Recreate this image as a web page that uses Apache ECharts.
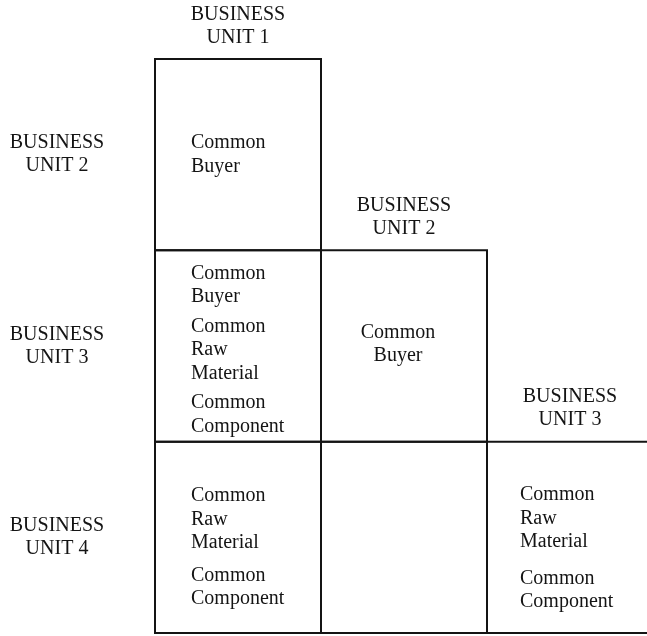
<!DOCTYPE html>
<html><head><meta charset="utf-8">
<script src="https://cdn.jsdelivr.net/npm/echarts@6/dist/echarts.min.js"></script>
<style>html,body{margin:0;padding:0;background:#fff}#c{width:647px;height:636px}</style>
</head><body><div id="c"></div>
<script>
// ---- data ----
const colHeaders = ['BUSINESS\nUNIT 1', 'BUSINESS\nUNIT 2', 'BUSINESS\nUNIT 3'];
const rowHeaders = ['BUSINESS\nUNIT 2', 'BUSINESS\nUNIT 3', 'BUSINESS\nUNIT 4'];
const cellCols = [0, 0, 1, 0, 1, 2];
const cellRows = [0, 1, 1, 2, 2, 2];
const cellTexts = [
  [['Common', 'Buyer']],
  [['Common', 'Buyer'], ['Common', 'Raw', 'Material'], ['Common', 'Component']],
  [['Common', 'Buyer']],
  [['Common', 'Raw', 'Material'], ['Common', 'Component']],
  [],
  [['Common', 'Raw', 'Material'], ['Common', 'Component']]
];

// ---- styles ----
const FONT = '"Liberation Serif", "DejaVu Serif", serif';
const FS = 20;
const INK = '#141414';
const textLeftPad = [36, 36, 33];
const cellShift = { '0,0': 0, '0,1': 4, '1,1': -2, '0,2': 10, '1,2': 0, '2,2': 11 };
const groupGap = { '0,1': 'g', '0,2': 'h', '2,2': 'k' };
const centeredCells = { '1,1': true };

const chart = echarts.init(document.getElementById('c'), null, { renderer: 'canvas' });

function richText(groups, gapStyle) {
  return groups.map(g => g.map(l => '{a|' + l + '}').join('\n')).join('\n{' + gapStyle + '| }\n');
}
const rich = {
  a: { fontSize: FS, lineHeight: 23.5, fontFamily: FONT, fill: INK, color: INK },
  g: { fontSize: 6, lineHeight: 6, fontFamily: FONT },
  h: { fontSize: 9, lineHeight: 9, fontFamily: FONT },
  k: { fontSize: 13, lineHeight: 13, fontFamily: FONT }
};

function renderCell(params, api) {
  const i = params.dataIndex;
  const c = cellCols[i], r = cellRows[i];
  const p0 = api.coord([c, r]);
  const p1 = api.coord([c + 1, r + 1]);
  const key = c + ',' + r;
  const children = [{
    type: 'rect',
    shape: { x: p0[0], y: p0[1], width: p1[0] - p0[0], height: p1[1] - p0[1] },
    style: { fill: 'none', stroke: INK, lineWidth: 2 }
  }];
  const groups = cellTexts[i];
  if (groups.length) {
    const centered = !!centeredCells[key];
    children.push({
      type: 'text',
      x: centered ? (p0[0] + p1[0]) / 2 - 6 : p0[0] + textLeftPad[c],
      y: (p0[1] + p1[1]) / 2 + (cellShift[key] || 0),
      style: {
        text: richText(groups, groupGap[key] || 'g'), rich: rich,
        align: centered ? 'center' : 'left', verticalAlign: 'middle',
        textAlign: centered ? 'center' : 'left', textVerticalAlign: 'middle',
        fill: INK, font: FS + 'px ' + FONT
      }
    });
  }
  return { type: 'group', children: children };
}

function renderColHeader(params, api) {
  const c = params.dataIndex;
  const p = api.coord([c + 0.5, c]);
  return {
    type: 'text', x: p[0], y: p[1] - 33,
    style: {
      text: colHeaders[c], fill: INK, font: FS + 'px ' + FONT, lineHeight: 23,
      align: 'center', verticalAlign: 'middle', textAlign: 'center', textVerticalAlign: 'middle'
    }
  };
}

function renderRowHeader(params, api) {
  const r = params.dataIndex;
  const p = api.coord([0, r + 0.5]);
  return {
    type: 'text', x: p[0] - 98, y: p[1],
    style: {
      text: rowHeaders[r], fill: INK, font: FS + 'px ' + FONT, lineHeight: 23,
      align: 'center', verticalAlign: 'middle', textAlign: 'center', textVerticalAlign: 'middle'
    }
  };
}

chart.setOption({
  animation: false,
  backgroundColor: '#fff',
  grid: { left: 155, top: 59, right: 0, bottom: 3 },
  // visible part of the third column ends at the page edge
  xAxis: { type: 'value', min: 0, max: 492 / 166, show: false },
  yAxis: { type: 'value', min: 0, max: 3, inverse: true, show: false },
  series: [
    { type: 'custom', clip: false, renderItem: renderCell,
      data: cellCols.map((c, i) => [c, cellRows[i]]) },
    { type: 'custom', clip: false, renderItem: renderColHeader,
      data: colHeaders.map((h, i) => [i + 0.5, i]) },
    { type: 'custom', clip: false, renderItem: renderRowHeader,
      data: rowHeaders.map((h, i) => [0, i + 0.5]) }
  ]
});
</script>
</body></html>
